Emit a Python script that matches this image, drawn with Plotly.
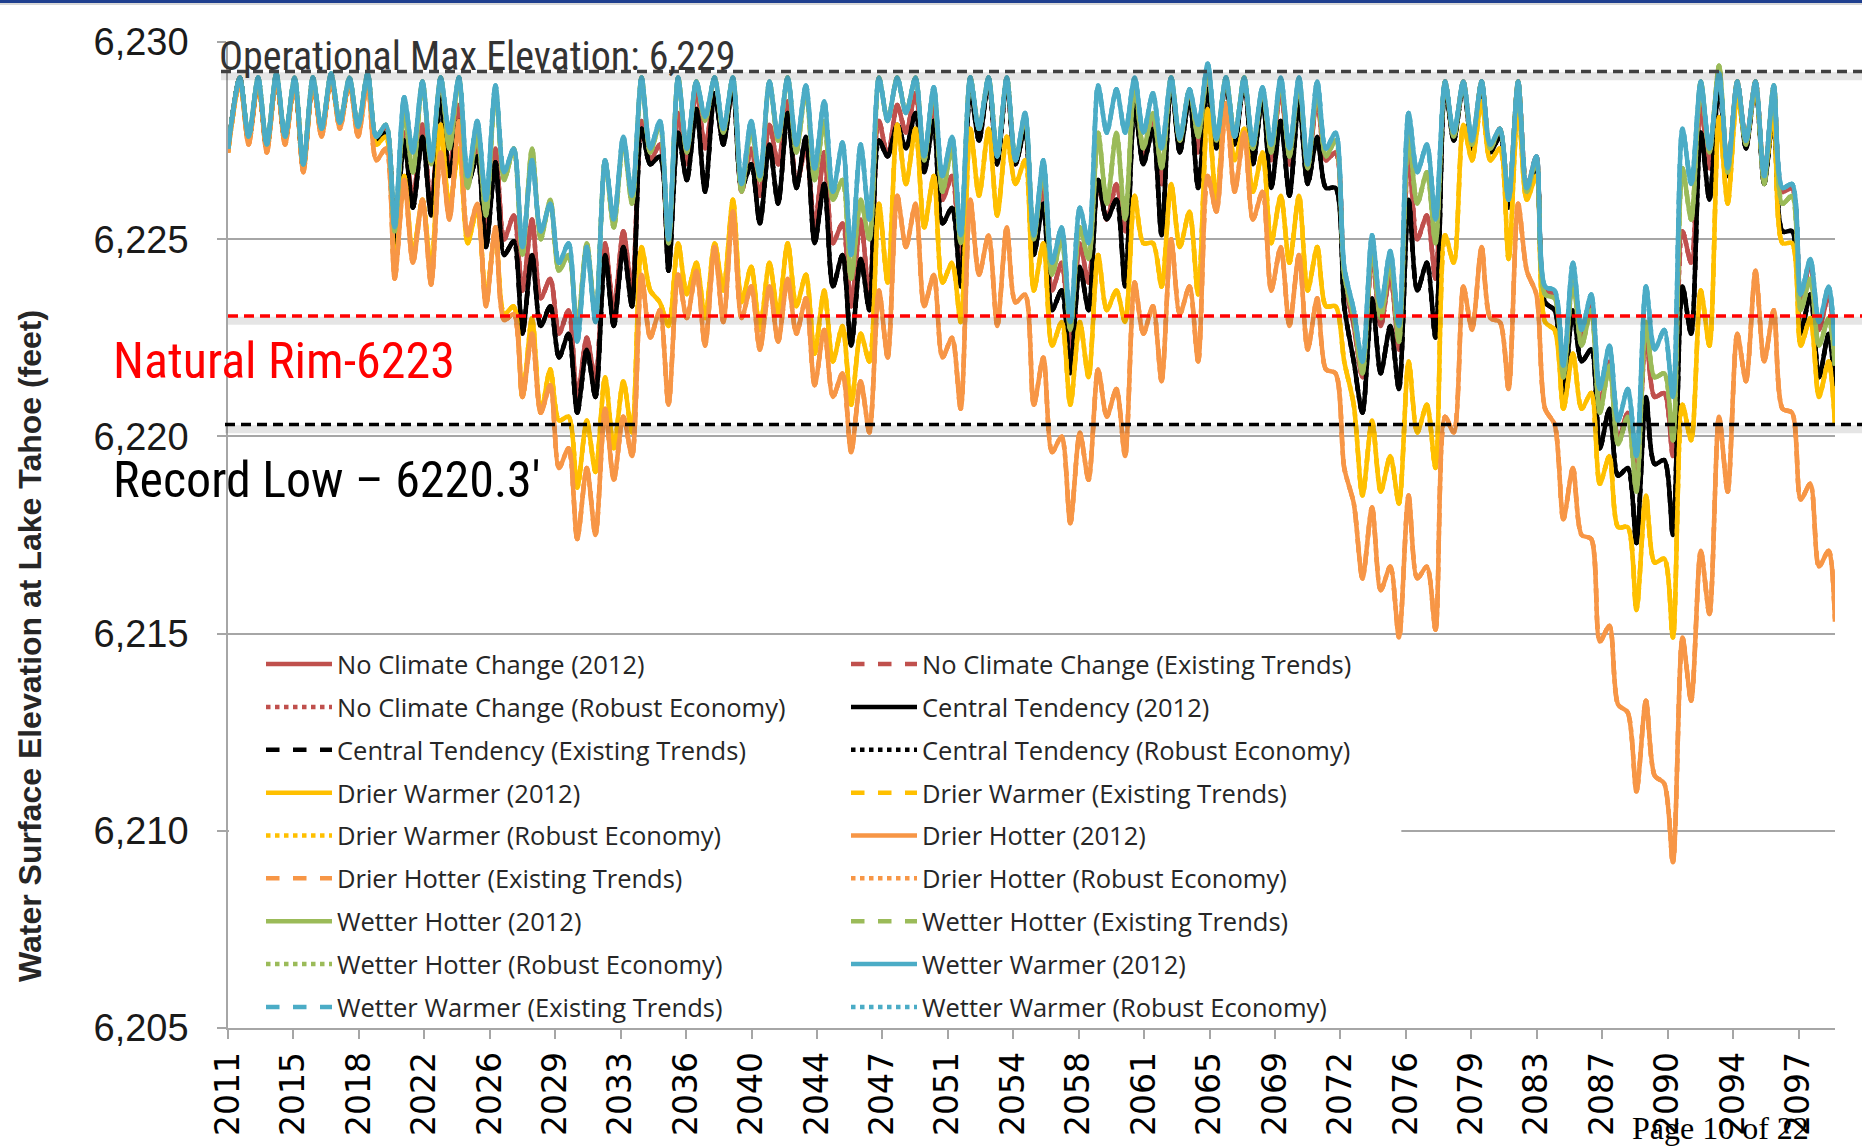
import plotly.graph_objects as go
import pandas as pd

# ---------------- DATA ----------------
# Water years 2012..2099. For each year: winter low (mid-Nov of prior year; first one = Oct 2011 start)
# and spring/summer high (late May). Values in feet.
years = list(range(2012, 2100))

ncc_low = [6227.3, 6227.5, 6227.3, 6227.5, 6226.8, 6227.7, 6227.9, 6227.8,
           6227.5, 6224.9, 6226.0, 6225.8, 6226.8, 6226.5, 6225.0, 6225.0, 6223.7, 6223.5,
           6222.6, 6221.0, 6221.4, 6223.2, 6223.7, 6227.0, 6224.4, 6226.9, 6227.3, 6227.5,
           6226.2, 6226.1, 6226.9, 6226.4, 6225.3, 6224.9, 6223.3, 6223.5, 6227.1, 6227.7,
           6226.9, 6226.0, 6224.5, 6227.6, 6227.0, 6226.9, 6224.9, 6223.7, 6222.2, 6223.9,
           6225.5, 6225.2, 6227.1, 6226.4, 6227.4, 6227.2, 6227.4, 6227.5, 6227.2, 6227.0,
           6226.9, 6226.7, 6227.0, 6224.0, 6221.5, 6222.8, 6222.2, 6225.0, 6224.0, 6227.6,
           6227.4, 6227.3, 6226.0, 6226.3, 6223.7, 6221.5, 6222.5, 6220.8, 6219.9, 6218.8,
           6221.0, 6219.5, 6224.4, 6226.8, 6226.8, 6227.5, 6226.6, 6226.2, 6223.5, 6222.7]
ncc_high = [6229.1, 6229.0, 6229.1, 6229.0, 6229.0, 6229.1, 6229.0, 6229.1,
            6227.8, 6227.7, 6227.9, 6228.7, 6228.4, 6227.4, 6227.3, 6225.6, 6225.5, 6224.0,
            6223.2, 6222.5, 6224.9, 6225.2, 6228.0, 6227.4, 6228.2, 6228.8, 6228.7, 6228.9,
            6227.3, 6227.9, 6228.5, 6227.3, 6227.2, 6225.4, 6225.5, 6228.0, 6228.4, 6228.7,
            6228.4, 6226.6, 6229.0, 6229.0, 6229.0, 6228.0, 6226.4, 6224.4, 6224.9, 6226.4,
            6226.4, 6228.8, 6228.1, 6229.0, 6228.7, 6229.2, 6229.0, 6229.0, 6228.8, 6228.8,
            6228.9, 6228.6, 6227.2, 6222.8, 6224.6, 6224.1, 6227.2, 6225.6, 6229.0, 6229.0,
            6229.0, 6227.8, 6229.0, 6227.1, 6223.6, 6224.1, 6223.3, 6221.9, 6220.6, 6222.6,
            6221.1, 6225.2, 6228.4, 6229.1, 6229.0, 6229.0, 6228.8, 6226.3, 6224.4, 6223.6]
ncc_end = 6222.2

ct_low = [6227.3, 6227.5, 6227.3, 6227.5, 6226.8, 6227.7, 6227.9, 6227.8,
          6227.5, 6224.8, 6225.8, 6225.6, 6226.6, 6226.4, 6224.8, 6224.6, 6222.6, 6222.8,
          6222.0, 6220.6, 6221.0, 6222.8, 6223.3, 6226.9, 6224.2, 6226.5, 6226.2, 6227.4,
          6226.3, 6225.4, 6225.9, 6226.3, 6224.9, 6223.8, 6222.3, 6223.2, 6227.1, 6227.3,
          6226.7, 6225.4, 6223.8, 6227.5, 6226.9, 6226.9, 6224.6, 6223.2, 6221.6, 6223.2,
          6225.5, 6223.8, 6226.9, 6225.1, 6227.2, 6226.3, 6227.3, 6227.4, 6226.9, 6226.3,
          6226.1, 6226.4, 6226.3, 6223.3, 6220.6, 6221.6, 6221.2, 6223.7, 6222.5, 6227.5,
          6227.3, 6227.2, 6225.8, 6226.1, 6223.4, 6221.0, 6221.9, 6219.7, 6219.0, 6217.3,
          6219.3, 6217.5, 6222.6, 6226.0, 6226.6, 6227.3, 6226.4, 6225.2, 6222.6, 6221.5]
ct_high = [6229.1, 6229.0, 6229.1, 6229.0, 6229.0, 6229.1, 6229.0, 6229.1,
           6227.7, 6227.5, 6227.6, 6228.6, 6228.0, 6227.1, 6226.95, 6224.95, 6224.6, 6223.3,
           6222.6, 6222.2, 6224.6, 6224.8, 6227.8, 6227.1, 6227.7, 6228.3, 6228.7, 6228.9,
           6226.9, 6227.4, 6228.2, 6227.6, 6226.4, 6224.6, 6224.5, 6227.5, 6227.9, 6228.2,
           6228.0, 6225.8, 6228.8, 6229.0, 6229.0, 6227.8, 6225.9, 6223.7, 6224.3, 6226.5,
           6226.0, 6228.4, 6227.8, 6229.0, 6228.6, 6228.8, 6229.0, 6229.0, 6228.6, 6228.0,
           6228.5, 6227.6, 6226.3, 6221.9, 6223.5, 6222.8, 6226.0, 6224.4, 6228.9, 6228.9,
           6228.9, 6227.6, 6228.9, 6226.9, 6223.2, 6223.2, 6222.2, 6220.7, 6219.2, 6221.0,
           6219.4, 6223.8, 6227.7, 6229.0, 6228.9, 6228.9, 6228.2, 6225.2, 6223.6, 6222.6]
ct_end = 6221.1

dw_low = [6227.2, 6227.5, 6227.3, 6227.5, 6226.8, 6227.7, 6227.9, 6227.7,
          6227.4, 6224.2, 6224.6, 6224.2, 6225.8, 6224.9, 6223.5, 6223.1, 6221.0, 6220.6,
          6220.4, 6218.7, 6219.1, 6219.7, 6220.1, 6223.7, 6222.8, 6223.6, 6223.0, 6223.7,
          6223.4, 6222.7, 6223.1, 6223.3, 6222.1, 6221.9, 6220.8, 6221.9, 6223.9, 6226.4,
          6225.3, 6223.9, 6222.9, 6226.1, 6225.6, 6226.4, 6223.7, 6222.3, 6220.8, 6221.5,
          6223.2, 6222.9, 6224.9, 6223.8, 6224.8, 6223.6, 6226.0, 6227.0, 6226.2, 6224.9,
          6224.4, 6223.7, 6223.3, 6221.9, 6218.5, 6218.6, 6218.3, 6220.1, 6219.2, 6224.4,
          6227.0, 6227.0, 6224.5, 6226.0, 6222.9, 6220.7, 6220.7, 6218.8, 6217.7, 6215.6,
          6216.8, 6214.9, 6219.9, 6222.3, 6225.9, 6227.5, 6226.6, 6224.9, 6222.3, 6221.0]
dw_high = [6229.0, 6229.0, 6229.1, 6229.0, 6229.0, 6229.1, 6229.0, 6229.1,
           6227.6, 6226.6, 6226.0, 6227.9, 6227.3, 6225.8, 6225.2, 6223.3, 6223.0, 6221.7,
           6220.5, 6220.4, 6221.5, 6221.4, 6224.8, 6223.4, 6224.9, 6224.4, 6224.9, 6226.0,
           6224.3, 6224.4, 6224.9, 6224.1, 6223.7, 6222.8, 6222.6, 6225.9, 6227.9, 6227.8,
           6226.6, 6224.4, 6227.8, 6227.8, 6227.6, 6227.0, 6224.9, 6222.9, 6222.9, 6224.6,
           6223.7, 6226.1, 6224.9, 6226.4, 6225.7, 6228.3, 6228.4, 6227.8, 6227.2, 6226.1,
           6226.1, 6224.8, 6223.3, 6220.8, 6220.4, 6219.5, 6221.9, 6220.8, 6225.1, 6227.9,
           6228.5, 6227.3, 6228.4, 6226.6, 6222.7, 6222.1, 6221.1, 6219.5, 6217.7, 6218.5,
           6216.9, 6220.8, 6223.7, 6228.1, 6228.6, 6228.9, 6228.2, 6224.9, 6223.0, 6221.9]
dw_end = 6220.3

dh_low = [6227.2, 6227.4, 6227.2, 6227.4, 6226.7, 6227.6, 6227.8, 6227.6,
          6227.0, 6224.0, 6224.4, 6223.85, 6225.5, 6225.1, 6223.3, 6222.95, 6221.0, 6220.6,
          6219.2, 6217.4, 6217.5, 6218.9, 6219.5, 6222.5, 6220.8, 6223.0, 6222.3, 6222.9,
          6223.0, 6222.2, 6222.4, 6222.6, 6221.3, 6221.0, 6219.6, 6220.1, 6222.0, 6224.8,
          6223.3, 6222.0, 6220.7, 6224.1, 6222.8, 6223.4, 6220.8, 6219.6, 6217.8, 6218.9,
          6220.5, 6219.5, 6222.6, 6221.4, 6223.1, 6221.9, 6225.7, 6226.2, 6225.5, 6223.7,
          6222.8, 6222.2, 6221.7, 6219.2, 6216.4, 6216.1, 6214.9, 6216.4, 6215.1, 6220.1,
          6222.7, 6223.0, 6221.2, 6224.2, 6220.7, 6217.9, 6217.5, 6214.8, 6213.2, 6211.0,
          6211.4, 6209.2, 6213.3, 6215.5, 6218.6, 6221.4, 6221.9, 6220.7, 6218.4, 6216.7]
dh_high = [6229.0, 6229.0, 6229.1, 6229.0, 6229.0, 6229.1, 6229.0, 6229.0,
           6227.3, 6226.5, 6226.0, 6227.2, 6228.0, 6225.9, 6225.3, 6223.1, 6222.6, 6221.3,
           6219.7, 6219.2, 6220.7, 6220.5, 6224.1, 6223.2, 6224.1, 6224.2, 6224.8, 6225.7,
           6223.8, 6223.8, 6224.0, 6223.5, 6222.7, 6221.6, 6221.4, 6223.7, 6226.1, 6225.9,
           6224.1, 6222.5, 6226.0, 6225.1, 6225.3, 6223.6, 6222.0, 6220.0, 6220.1, 6221.7,
           6221.2, 6223.9, 6223.3, 6225.0, 6223.8, 6226.6, 6228.45, 6227.7, 6226.2, 6224.8,
           6224.6, 6223.5, 6221.6, 6218.3, 6218.2, 6216.7, 6218.5, 6216.7, 6220.5, 6223.8,
           6224.8, 6222.9, 6225.9, 6223.6, 6220.3, 6219.2, 6217.4, 6215.2, 6213.0, 6213.3,
           6211.2, 6214.9, 6217.1, 6220.5, 6222.6, 6224.2, 6223.2, 6220.6, 6218.8, 6217.1]
dh_end = 6215.3

wh_low = [6227.3, 6227.6, 6227.4, 6227.6, 6226.9, 6227.8, 6227.95, 6227.85,
          6227.6, 6225.2, 6226.7, 6226.9, 6227.3, 6226.3, 6225.6, 6226.5, 6224.6, 6225.0,
          6224.2, 6222.8, 6223.0, 6225.3, 6225.9, 6227.2, 6224.9, 6227.2, 6228.0, 6227.7,
          6226.2, 6226.5, 6227.5, 6227.2, 6226.5, 6226.0, 6224.0, 6225.0, 6228.0, 6228.2,
          6227.0, 6226.2, 6224.9, 6227.8, 6227.1, 6227.0, 6225.0, 6224.1, 6222.7, 6224.5,
          6225.9, 6225.5, 6227.3, 6226.8, 6227.5, 6227.6, 6227.5, 6227.6, 6227.3, 6227.2,
          6227.1, 6226.8, 6227.1, 6224.1, 6221.6, 6223.0, 6222.4, 6225.9, 6224.9, 6227.6,
          6227.4, 6227.3, 6226.0, 6226.2, 6223.6, 6221.5, 6222.3, 6220.6, 6219.8, 6218.6,
          6221.5, 6219.9, 6225.5, 6227.2, 6226.7, 6227.4, 6226.4, 6225.9, 6223.2, 6222.3]
wh_high = [6229.1, 6229.1, 6229.2, 6229.1, 6229.1, 6229.2, 6229.1, 6229.2,
           6227.9, 6228.2, 6229.0, 6229.1, 6229.1, 6227.7, 6228.8, 6227.3, 6227.3, 6226.0,
           6224.6, 6224.9, 6227.0, 6227.5, 6229.1, 6227.9, 6229.1, 6229.0, 6229.1, 6229.1,
           6227.8, 6229.0, 6229.1, 6228.8, 6228.0, 6226.5, 6226.0, 6229.1, 6229.1, 6229.1,
           6228.8, 6227.3, 6229.1, 6229.1, 6229.1, 6228.1, 6226.8, 6225.0, 6225.3, 6227.7,
           6227.7, 6229.0, 6228.2, 6229.1, 6228.8, 6229.3, 6229.1, 6229.1, 6228.8, 6229.0,
           6229.0, 6228.8, 6227.5, 6223.0, 6224.8, 6224.4, 6227.7, 6226.7, 6229.0, 6229.0,
           6229.0, 6227.8, 6229.0, 6227.0, 6223.5, 6224.0, 6223.2, 6221.8, 6220.5, 6222.9,
           6221.6, 6226.8, 6229.0, 6229.4, 6229.0, 6229.0, 6228.9, 6226.1, 6224.0, 6223.0]
wh_end = 6221.8

ww_low = [6227.3, 6227.6, 6227.4, 6227.6, 6226.9, 6227.8, 6227.95, 6227.85,
          6227.6, 6225.3, 6227.2, 6227.0, 6227.7, 6226.6, 6226.0, 6226.7, 6224.8, 6225.2,
          6224.4, 6222.4, 6222.9, 6225.5, 6226.1, 6227.3, 6225.0, 6227.3, 6228.1, 6227.8,
          6226.4, 6226.6, 6227.6, 6227.4, 6226.8, 6226.2, 6224.6, 6225.5, 6228.0, 6228.2,
          6227.1, 6226.6, 6225.1, 6227.8, 6227.1, 6227.0, 6225.1, 6224.4, 6222.9, 6224.9,
          6227.7, 6227.7, 6227.7, 6227.3, 6227.55, 6227.9, 6227.55, 6227.6, 6227.4, 6227.4,
          6227.3, 6226.9, 6227.3, 6224.3, 6221.9, 6223.3, 6222.8, 6226.7, 6225.5, 6227.7,
          6227.5, 6227.4, 6226.0, 6226.3, 6223.8, 6221.8, 6222.7, 6221.2, 6220.4, 6219.5,
          6222.2, 6221.0, 6226.4, 6227.3, 6226.8, 6227.5, 6226.6, 6226.3, 6223.6, 6222.9]
ww_high = [6229.1, 6229.1, 6229.2, 6229.1, 6229.1, 6229.2, 6229.1, 6229.2,
           6227.9, 6228.6, 6229.0, 6229.1, 6229.1, 6228.0, 6228.9, 6227.3, 6227.0, 6225.9,
           6224.9, 6224.8, 6227.0, 6227.6, 6229.1, 6228.0, 6229.1, 6229.0, 6229.1, 6229.1,
           6228.0, 6229.0, 6229.1, 6228.9, 6228.5, 6227.45, 6227.4, 6229.1, 6229.1, 6229.1,
           6228.85, 6227.6, 6229.1, 6229.1, 6229.1, 6228.2, 6227.0, 6225.3, 6225.8, 6228.9,
           6228.8, 6229.1, 6228.7, 6229.1, 6228.8, 6229.45, 6229.1, 6229.1, 6228.85, 6229.1,
           6229.1, 6229.0, 6227.7, 6223.2, 6225.1, 6224.7, 6228.2, 6227.4, 6229.0, 6229.0,
           6229.0, 6227.8, 6229.0, 6227.1, 6223.7, 6224.4, 6223.6, 6222.3, 6221.2, 6223.8,
           6222.7, 6227.8, 6229.0, 6229.2, 6229.0, 6229.0, 6228.9, 6226.4, 6224.5, 6223.8]
ww_end = 6222.3

scenario_names = ["No Climate Change", "Central Tendency", "Drier Warmer",
                  "Drier Hotter", "Wetter Hotter", "Wetter Warmer"]
scenario_colors = ["#C0504D", "#000000", "#FFC000", "#F79646", "#9BBB59", "#4BACC6"]
variants = ["(2012)", "(Existing Trends)", "(Robust Economy)"]
variant_dash = ["solid", "dash", "dot"]

tick_labels = ["2011", "2015", "2018", "2022", "2026", "2029", "2033", "2036", "2040",
               "2044", "2047", "2051", "2054", "2058", "2061", "2065", "2069", "2072",
               "2076", "2079", "2083", "2087", "2090", "2094", "2097"]
tick_step_months = 43

max_elev = 6229.25
natural_rim = 6223.05
record_low = 6220.3

# ---------------- BUILD ----------------
def dates():
    xs = []
    for i, y in enumerate(years):
        xs.append("2011-10-01" if i == 0 else f"{y-1}-11-15")
        xs.append(f"{y}-05-25")
    xs.append("2099-09-30")
    return xs

def series(low, high, end):
    vals = []
    for lo, hi in zip(low, high):
        vals += [lo, hi]
    vals.append(end)
    return vals

xd = dates()
data = [series(ncc_low, ncc_high, ncc_end), series(ct_low, ct_high, ct_end),
        series(dw_low, dw_high, dw_end), series(dh_low, dh_high, dh_end),
        series(wh_low, wh_high, wh_end), series(ww_low, ww_high, ww_end)]

fig = go.Figure()
k = 0
for s, name in enumerate(scenario_names):
    for v, var in enumerate(variants):
        fig.add_trace(go.Scatter(
            x=xd, y=data[s], mode="lines", name=f"{name} {var}",
            line=dict(color=scenario_colors[s], width=4.5, dash=variant_dash[v],
                      shape="spline", smoothing=0.8),
            legend="legend" if k % 2 == 0 else "legend2",
            legendgroup=f"g{k}", hoverinfo="skip"))
        k += 1

start = pd.Timestamp("2011-10-01")
tick_vals = [start + pd.DateOffset(months=tick_step_months * i) for i in range(len(tick_labels))]

W, H = 1862, 1148
ML, MR, MT, MB = 228, 27, 42, 120
pw, ph = W - ML - MR, H - MT - MB

def px_x(px):
    return (px - ML) / pw

def px_y(py):
    return (H - MB - py) / ph

shapes = []
# white box behind the legend (covers the 6,210 gridline, stays under the traces)
shapes.append(dict(type="rect", xref="x", yref="y", x0="2011-10-20", x1="2076-01-01",
                   y0=6205.15, y1=6214.6, fillcolor="white", line=dict(width=0),
                   layer="between"))
for yv, col, x0 in [(max_elev, "#404040", px_x(221)), (natural_rim, "#FF0000", 0.0),
                    (record_low, "#000000", px_x(225))]:
    shapes.append(dict(type="line", xref="paper", yref="y", x0=x0, x1=px_x(W),
                       y0=yv - 0.12, y1=yv - 0.12,
                       line=dict(color="rgba(0,0,0,0.10)", width=8)))
    shapes.append(dict(type="line", xref="paper", yref="y", x0=x0, x1=px_x(W),
                       y0=yv, y1=yv, line=dict(color=col, width=3.5, dash="10px,6px")))
# top rule of the page
shapes.append(dict(type="rect", xref="paper", yref="paper", x0=px_x(0), x1=px_x(W),
                   y0=px_y(3), y1=px_y(0), fillcolor="#1F3F8F", line=dict(width=0)))
shapes.append(dict(type="line", xref="paper", yref="paper", x0=px_x(0), x1=px_x(W),
                   y0=px_y(4), y1=px_y(4), line=dict(color="#b0b0b0", width=1)))

narrow = "Liberation Sans Narrow, Arial Narrow, Roboto Condensed, Liberation Sans, Arial"
annotations = [
    dict(text="Operational Max Elevation: 6,229", xref="paper", yref="y",
         x=px_x(217), y=6229.62, xanchor="left", yanchor="middle", showarrow=False,
         font=dict(family=narrow, size=40, color="#333333")),
    dict(text="Natural Rim-6223", xref="paper", yref="y", x=px_x(111), y=6221.92,
         xanchor="left", yanchor="middle", showarrow=False,
         font=dict(family=narrow, size=50, color="#FF0000")),
    dict(text="Record Low \u2013 6220.3\u2032", xref="paper", yref="y", x=px_x(111), y=6218.9,
         xanchor="left", yanchor="middle", showarrow=False,
         font=dict(family=narrow, size=50, color="#000000")),
    dict(text="<b>Water Surface Elevation at Lake Tahoe (feet)</b>", xref="paper",
         yref="paper", x=px_x(30), y=px_y(646), textangle=-90, xanchor="center",
         yanchor="middle", showarrow=False,
         font=dict(family="Liberation Sans, Arial", size=32, color="#262626")),
    dict(text="Page 10 of 22", xref="paper", yref="paper", x=px_x(1811), y=px_y(1128),
         xanchor="right", yanchor="middle", showarrow=False,
         font=dict(family="Liberation Serif, Times New Roman", size=32, color="#000000")),
]

legend_font = dict(family="Open Sans, Lato, sans-serif", size=25.5, color="#262626")
fig.update_layout(
    width=W, height=H, margin=dict(l=ML, r=MR, t=MT, b=MB),
    paper_bgcolor="white", plot_bgcolor="white",
    showlegend=True,
    legend=dict(x=px_x(261), y=px_y(641), xanchor="left", yanchor="top",
                bgcolor="rgba(0,0,0,0)", font=legend_font, itemwidth=66,
                tracegroupgap=6.7, borderwidth=0),
    legend2=dict(x=px_x(846), y=px_y(641), xanchor="left", yanchor="top",
                 bgcolor="rgba(0,0,0,0)", font=legend_font, itemwidth=66,
                 tracegroupgap=6.7, borderwidth=0),
    xaxis=dict(type="date", range=["2011-10-01", "2099-10-01"], tickmode="array",
               tickvals=tick_vals, ticktext=tick_labels, tickangle=-90,
               ticks="outside", ticklen=9, tickcolor="#a6a6a6", tickwidth=1.5,
               showline=True, linecolor="#a6a6a6", linewidth=1.5, showgrid=False,
               zeroline=False,
               tickfont=dict(family="DejaVu Sans, Liberation Sans", size=33, color="#000000")),
    yaxis=dict(range=[6205, 6230], tick0=6205, dtick=5, tickformat=",d",
               showgrid=True, gridcolor="#a6a6a6", gridwidth=1.5,
               showline=True, linecolor="#a6a6a6", linewidth=1.5,
               ticks="outside", ticklen=9, tickcolor="#a6a6a6", tickwidth=1.5,
               ticklabelstandoff=21, zeroline=False,
               tickfont=dict(family="Liberation Sans, Arial", size=38, color="#1a1a1a")),
    shapes=shapes, annotations=annotations,
)

fig.write_html("out.html", config={"displayModeBar": False},
               post_script="document.body.style.margin='0';")
